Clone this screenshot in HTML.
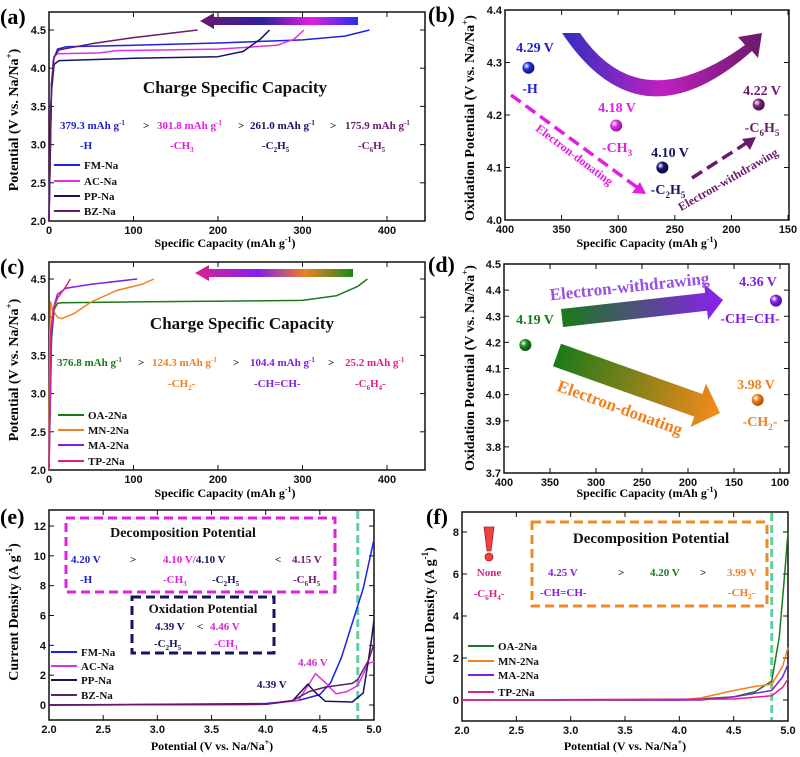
<!DOCTYPE html>
<html><head><meta charset="utf-8"><style>
html,body{margin:0;padding:0;background:#fff;}
svg{display:block;}
.t{font-family:"Liberation Serif",serif;font-weight:bold;}
.k{font-family:"Liberation Sans",sans-serif;font-weight:bold;font-size:11px;fill:#111;}
</style></head><body>
<svg id="fig" width="800" height="757" viewBox="0 0 800 757" xmlns="http://www.w3.org/2000/svg">
<defs>
<linearGradient id="ga" x1="0" x2="1"><stop offset="0" stop-color="#6a1a6a"/><stop offset="0.4" stop-color="#3020a0"/><stop offset="0.7" stop-color="#e020e0"/><stop offset="1" stop-color="#2030f0"/></linearGradient>
<linearGradient id="gc" x1="0" x2="1"><stop offset="0" stop-color="#e0208a"/><stop offset="0.4" stop-color="#8020f0"/><stop offset="0.7" stop-color="#f08020"/><stop offset="1" stop-color="#1a8a1a"/></linearGradient>
<linearGradient id="gb" x1="0" x2="1"><stop offset="0" stop-color="#3030c0"/><stop offset="0.5" stop-color="#c020c0"/><stop offset="1" stop-color="#6a1a6a"/></linearGradient>
<linearGradient id="gd1" x1="0" x2="1"><stop offset="0" stop-color="#1a7a1a"/><stop offset="1" stop-color="#8a20f0"/></linearGradient>
<linearGradient id="gd2" x1="0" x2="1"><stop offset="0" stop-color="#1a7a1a"/><stop offset="1" stop-color="#f88a1a"/></linearGradient>
<radialGradient id="s1" cx="0.35" cy="0.35" r="0.7"><stop offset="0" stop-color="#fff"/><stop offset="0.4" stop-color="#2030e0"/><stop offset="1" stop-color="#101070"/></radialGradient>
<radialGradient id="s2" cx="0.35" cy="0.35" r="0.7"><stop offset="0" stop-color="#fff"/><stop offset="0.4" stop-color="#e030e0"/><stop offset="1" stop-color="#901090"/></radialGradient>
<radialGradient id="s3" cx="0.35" cy="0.35" r="0.7"><stop offset="0" stop-color="#fff"/><stop offset="0.4" stop-color="#141470"/><stop offset="1" stop-color="#050530"/></radialGradient>
<radialGradient id="s4" cx="0.35" cy="0.35" r="0.7"><stop offset="0" stop-color="#fff"/><stop offset="0.4" stop-color="#7a2a7a"/><stop offset="1" stop-color="#400a40"/></radialGradient>
<radialGradient id="s5" cx="0.35" cy="0.35" r="0.7"><stop offset="0" stop-color="#fff"/><stop offset="0.4" stop-color="#1a8a1a"/><stop offset="1" stop-color="#0a4a0a"/></radialGradient>
<radialGradient id="s6" cx="0.35" cy="0.35" r="0.7"><stop offset="0" stop-color="#fff"/><stop offset="0.4" stop-color="#f08020"/><stop offset="1" stop-color="#a04a00"/></radialGradient>
<radialGradient id="s7" cx="0.35" cy="0.35" r="0.7"><stop offset="0" stop-color="#fff"/><stop offset="0.4" stop-color="#8a20f0"/><stop offset="1" stop-color="#4a0a90"/></radialGradient>
</defs>

<!-- panel labels -->
<text class="t" x="0" y="24" font-size="22">(a)</text>
<text class="t" x="428" y="22" font-size="22">(b)</text>
<text class="t" x="0" y="274" font-size="22">(c)</text>
<text class="t" x="428" y="272" font-size="22">(d)</text>
<text class="t" x="0" y="524" font-size="22">(e)</text>
<text class="t" x="426" y="524" font-size="22">(f)</text>

<!-- axis titles -->
<text class="t" font-size="14" text-anchor="middle" transform="translate(18,120) rotate(-90)">Potential (V vs. Na/Na<tspan font-size="9" dy="-6">+</tspan><tspan dy="6">)</tspan></text>
<text class="t" font-size="12" text-anchor="middle" x="225" y="247">Specific Capacity (mAh g<tspan font-size="8" dy="-5">-1</tspan><tspan dy="5">)</tspan></text>
<text class="t" font-size="14" text-anchor="middle" transform="translate(474,118) rotate(-90)">Oxidation Potential (V vs. Na/Na<tspan font-size="9" dy="-6">+</tspan><tspan dy="6">)</tspan></text>
<text class="t" font-size="12" text-anchor="middle" x="647" y="247">Specific Capacity (mAh g<tspan font-size="8" dy="-5">-1</tspan><tspan dy="5">)</tspan></text>
<text class="t" font-size="14" text-anchor="middle" transform="translate(18,370) rotate(-90)">Potential (V vs. Na/Na<tspan font-size="9" dy="-6">+</tspan><tspan dy="6">)</tspan></text>
<text class="t" font-size="12" text-anchor="middle" x="225" y="497">Specific Capacity (mAh g<tspan font-size="8" dy="-5">-1</tspan><tspan dy="5">)</tspan></text>
<text class="t" font-size="14" text-anchor="middle" transform="translate(474,368) rotate(-90)">Oxidation Potential (V vs. Na/Na<tspan font-size="9" dy="-6">+</tspan><tspan dy="6">)</tspan></text>
<text class="t" font-size="12" text-anchor="middle" x="647" y="497">Specific Capacity (mAh g<tspan font-size="8" dy="-5">-1</tspan><tspan dy="5">)</tspan></text>
<text class="t" font-size="14" text-anchor="middle" transform="translate(18,612) rotate(-90)">Current Density (A g<tspan font-size="9" dy="-6">-1</tspan><tspan dy="6">)</tspan></text>
<text class="t" font-size="12" text-anchor="middle" x="212" y="750">Potential (V vs. Na/Na<tspan font-size="8" dy="-5">+</tspan><tspan dy="5">)</tspan></text>
<text class="t" font-size="14" text-anchor="middle" transform="translate(434,616) rotate(-90)">Current Density (A g<tspan font-size="9" dy="-6">-1</tspan><tspan dy="6">)</tspan></text>
<text class="t" font-size="12" text-anchor="middle" x="625" y="750">Potential (V vs. Na/Na<tspan font-size="8" dy="-5">+</tspan><tspan dy="5">)</tspan></text>

<!-- panel a annotations -->
<path d="M358,17 L214,17 L214,13 L200,21 L214,29 L214,25 L358,25 Z" fill="url(#ga)"/>
<text class="t" font-size="17" x="235" y="93" text-anchor="middle" fill="#111">Charge Specific Capacity</text>
<g class="t" font-size="11">
<text x="60" y="129" fill="#2020d0">379.3 mAh g<tspan font-size="7" dy="-4">-1</tspan></text>
<text x="143" y="129" fill="#111">&gt;</text>
<text x="157" y="129" fill="#e020e0">301.8 mAh g<tspan font-size="7" dy="-4">-1</tspan></text>
<text x="238" y="129" fill="#111">&gt;</text>
<text x="250" y="129" fill="#141460">261.0 mAh g<tspan font-size="7" dy="-4">-1</tspan></text>
<text x="330" y="129" fill="#111">&gt;</text>
<text x="345" y="129" fill="#6a1a6a">175.9 mAh g<tspan font-size="7" dy="-4">-1</tspan></text>
<text x="80" y="149" fill="#2020d0">-H</text>
<text x="170" y="149" fill="#e020e0">-CH<tspan font-size="7" dy="3">3</tspan></text>
<text x="262" y="149" fill="#141460">-C<tspan font-size="7" dy="3">2</tspan><tspan dy="-3">H</tspan><tspan font-size="7" dy="3">5</tspan></text>
<text x="358" y="149" fill="#6a1a6a">-C<tspan font-size="7" dy="3">6</tspan><tspan dy="-3">H</tspan><tspan font-size="7" dy="3">5</tspan></text>
</g>

<!-- panel b annotations -->
<path d="M562,33 L580,33 Q640,121 745,45 L738,37 L762,33 L758,58 L752,51 Q640,150 562,33 Z" fill="url(#gb)"/>
<g class="t" font-size="14" text-anchor="middle">
<text x="535" y="52" fill="#2020d0">4.29 V</text><text x="530" y="93" fill="#2020d0">-H</text>
<text x="617" y="112" fill="#e020e0">4.18 V</text><text x="617" y="152" fill="#e020e0">-CH<tspan font-size="9" dy="4">3</tspan></text>
<text x="670" y="157" fill="#141460">4.10 V</text><text x="668" y="194" fill="#141460">-C<tspan font-size="9" dy="4">2</tspan><tspan dy="-4">H</tspan><tspan font-size="9" dy="4">5</tspan></text>
<text x="762" y="95" fill="#6a1a6a">4.22 V</text><text x="762" y="132" fill="#6a1a6a">-C<tspan font-size="9" dy="4">6</tspan><tspan dy="-4">H</tspan><tspan font-size="9" dy="4">5</tspan></text>
</g>
<line x1="511" y1="95" x2="638" y2="188" stroke="#e020e0" stroke-width="3.5" stroke-dasharray="12,6"/>
<path d="M646,194 L632,193 L640,182 Z" fill="#e020e0"/>
<line x1="692" y1="178" x2="748" y2="142" stroke="#6a1a6a" stroke-width="3.5" stroke-dasharray="12,6"/>
<path d="M756,137 L742,139 L750,150 Z" fill="#6a1a6a"/>
<text class="t" font-size="12" fill="#e020e0" text-anchor="middle" transform="translate(572,158) rotate(37)">Electron-donating</text>
<text class="t" font-size="12" fill="#6a1a6a" text-anchor="middle" transform="translate(730,183) rotate(-30)">Electron-withdrawing</text>

<!-- panel c annotations -->
<path d="M353,269 L209,269 L209,265 L195,273 L209,281 L209,277 L353,277 Z" fill="url(#gc)"/>
<text class="t" font-size="17" x="242" y="329" text-anchor="middle" fill="#111">Charge Specific Capacity</text>
<g class="t" font-size="11">
<text x="57" y="366" fill="#1a7a1a">376.8 mAh g<tspan font-size="7" dy="-4">-1</tspan></text>
<text x="138" y="366" fill="#111">&gt;</text>
<text x="152" y="366" fill="#f08020">124.3 mAh g<tspan font-size="7" dy="-4">-1</tspan></text>
<text x="233" y="366" fill="#111">&gt;</text>
<text x="250" y="366" fill="#8020e0">104.4 mAh g<tspan font-size="7" dy="-4">-1</tspan></text>
<text x="328" y="366" fill="#111">&gt;</text>
<text x="345" y="366" fill="#e0208a">25.2 mAh g<tspan font-size="7" dy="-4">-1</tspan></text>
<text x="168" y="387" fill="#f08020">-CH<tspan font-size="7" dy="3">2</tspan><tspan dy="-3">-</tspan></text>
<text x="254" y="387" fill="#8020e0">-CH=CH-</text>
<text x="355" y="387" fill="#e0208a">-C<tspan font-size="7" dy="3">6</tspan><tspan dy="-3">H</tspan><tspan font-size="7" dy="3">4</tspan><tspan dy="-3">-</tspan></text>
</g>

<!-- panel d annotations -->
<path transform="translate(562,318) rotate(-6.4)" d="M0,-9 L145,-9 L145,-18 L162,0 L145,18 L145,9 L0,9 Z" fill="url(#gd1)"/>
<path transform="translate(557,355) rotate(19.6)" d="M0,-12 L150,-12 L150,-23 L173,0 L150,23 L150,12 L0,12 Z" fill="url(#gd2)"/>
<text class="t" font-size="17" fill="#9a50e0" text-anchor="middle" transform="translate(630,292) rotate(-6)">Electron-withdrawing</text>
<text class="t" font-size="17" fill="#f08020" text-anchor="middle" transform="translate(618,413) rotate(20)">Electron-donating</text>
<g class="t" font-size="14" text-anchor="middle">
<text x="535" y="324" fill="#1a7a1a">4.19 V</text>
<text x="758" y="286" fill="#8020e0">4.36 V</text><text x="750" y="323" fill="#8020e0">-CH=CH-</text>
<text x="756" y="389" fill="#f08020">3.98 V</text><text x="760" y="426" fill="#f08020">-CH<tspan font-size="9" dy="4">2</tspan><tspan dy="-4">-</tspan></text>
</g>

<!-- panel e annotations -->
<rect x="66" y="518" width="269" height="74" fill="none" stroke="#e020e0" stroke-width="3" stroke-dasharray="9,5"/>
<text class="t" font-size="14" x="183" y="537" text-anchor="middle" fill="#111">Decomposition Potential</text>
<g class="t" font-size="11">
<text x="71" y="563" fill="#2020d0">4.20 V</text><text x="130" y="563" fill="#111">&gt;</text>
<text x="163" y="563" fill="#e020e0">4.10 V/<tspan fill="#141460">4.10 V</tspan></text>
<text x="275" y="563" fill="#111">&lt;</text><text x="292" y="563" fill="#6a1a6a">4.15 V</text>
<text x="80" y="583" fill="#2020d0">-H</text>
<text x="163" y="583" fill="#e020e0">-CH<tspan font-size="7" dy="3">3</tspan></text>
<text x="212" y="583" fill="#141460">-C<tspan font-size="7" dy="3">2</tspan><tspan dy="-3">H</tspan><tspan font-size="7" dy="3">5</tspan></text>
<text x="293" y="583" fill="#6a1a6a">-C<tspan font-size="7" dy="3">6</tspan><tspan dy="-3">H</tspan><tspan font-size="7" dy="3">5</tspan></text>
</g>
<rect x="132" y="597" width="142" height="56" fill="none" stroke="#141460" stroke-width="3" stroke-dasharray="9,5"/>
<text class="t" font-size="13" x="203" y="613" text-anchor="middle" fill="#111">Oxidation Potential</text>
<g class="t" font-size="11">
<text x="155" y="630" fill="#141460">4.39 V</text><text x="197" y="630" fill="#111">&lt;</text><text x="210" y="630" fill="#e020e0">4.46 V</text>
<text x="154" y="647" fill="#141460">-C<tspan font-size="7" dy="3">2</tspan><tspan dy="-3">H</tspan><tspan font-size="7" dy="3">5</tspan></text>
<text x="214" y="647" fill="#e020e0">-CH<tspan font-size="7" dy="3">3</tspan></text>
</g>
<text class="t" font-size="11" x="298" y="666" fill="#e020e0">4.46 V</text>
<text class="t" font-size="11" x="257" y="688" fill="#141460">4.39 V</text>

<!-- panel f annotations -->
<rect x="532" y="522" width="235" height="84" fill="none" stroke="#f08a20" stroke-width="3" stroke-dasharray="9,5"/>
<text class="t" font-size="15" x="651" y="543" text-anchor="middle" fill="#111">Decomposition Potential</text>
<g class="t" font-size="11">
<text x="548" y="576" fill="#8020e0">4.25 V</text><text x="618" y="576" fill="#111">&gt;</text>
<text x="650" y="576" fill="#1a7a1a">4.20 V</text><text x="700" y="576" fill="#111">&gt;</text>
<text x="727" y="576" fill="#f08020">3.99 V</text>
<text x="540" y="596" fill="#8020e0">-CH=CH-</text>
<text x="728" y="596" fill="#f08020">-CH<tspan font-size="7" dy="3">2</tspan><tspan dy="-3">-</tspan></text>
</g>
<g>
<path d="M484,527 L494,527 L491,551 L487,551 Z" fill="#f04040" stroke="#b02020" stroke-width="0.8"/>
<circle cx="489" cy="557" r="4" fill="#f04040" stroke="#b02020" stroke-width="0.8"/>
</g>
<text class="t" font-size="11" x="489" y="576" text-anchor="middle" fill="#e0208a">None</text>
<text class="t" font-size="11" x="489" y="597" text-anchor="middle" fill="#e0208a">-C<tspan font-size="7" dy="3">6</tspan><tspan dy="-3">H</tspan><tspan font-size="7" dy="3">4</tspan><tspan dy="-3">-</tspan></text>
</svg>
<script>
// ---- data ----
var seriesNamesA = ['FM-Na','AC-Na','PP-Na','BZ-Na'];
var capFM = [[0,2.0],[2,3.5],[5,4.1],[10,4.25],[20,4.28],[100,4.3],[200,4.33],[300,4.37],[350,4.42],[379.3,4.5]];
var capAC = [[0,2.0],[3,3.8],[6,4.15],[10,4.19],[60,4.2],[80,4.23],[200,4.25],[270,4.3],[290,4.38],[301.8,4.5]];
var capPP = [[0,2.0],[3,3.7],[6,4.05],[12,4.1],[100,4.13],[200,4.15],[230,4.22],[250,4.38],[261,4.5]];
var capBZ = [[0,2.0],[3,3.8],[6,4.15],[12,4.24],[50,4.32],[100,4.4],[175.9,4.5]];
var seriesNamesC = ['OA-2Na','MN-2Na','MA-2Na','TP-2Na'];
var capOA = [[0,2.0],[3,3.7],[6,4.1],[10,4.18],[15,4.19],[100,4.2],[300,4.22],[340,4.28],[365,4.4],[376.8,4.5]];
var capMN = [[0,2.0],[1,3.8],[2,4.2],[4,4.1],[10,4.0],[15,3.98],[30,4.05],[50,4.2],[80,4.35],[110,4.43],[124.3,4.5]];
var capMA = [[0,2.0],[3,3.8],[6,4.15],[10,4.3],[20,4.38],[50,4.43],[104.4,4.5]];
var capTP = [[0,2.0],[2,3.8],[5,4.1],[10,4.25],[20,4.4],[25.2,4.5]];
var oxB = [[379.3,4.29],[301.8,4.18],[261.0,4.10],[175.9,4.22]];
var oxD = [[376.8,4.19],[124.3,3.98],[104.4,4.36]];
var lsvFM = [[2,0],[4,0.1],[4.3,0.3],[4.5,0.7],[4.6,1.5],[4.7,3.2],[4.8,5.5],[4.9,7.8],[5,11.1]];
var lsvAC = [[2,0],[4,0.05],[4.3,0.3],[4.4,1.4],[4.46,2.1],[4.55,1.5],[4.65,0.75],[4.75,0.9],[4.85,1.3],[4.95,2.8],[5,2.9]];
var lsvPP = [[2,0],[4,0.05],[4.25,0.3],[4.39,1.4],[4.45,0.9],[4.55,0.25],[4.8,0.2],[4.9,0.8],[4.97,4],[5,5.7]];
var lsvBZ = [[2,0],[4,0.05],[4.25,0.3],[4.4,0.9],[4.55,1.2],[4.7,1.35],[4.8,1.45],[4.85,1.7],[4.95,3],[5,4.1]];
var lsvOA = [[2,0],[4,0],[4.5,0.15],[4.7,0.4],[4.85,0.9],[4.92,3],[4.97,6],[5,8]];
var lsvMN = [[2,0],[4,0],[4.2,0.1],[4.5,0.45],[4.7,0.65],[4.85,0.75],[4.95,1.6],[5,2.5]];
var lsvMA = [[2,0],[4.2,0],[4.5,0.15],[4.85,0.45],[4.95,1.1],[5,1.7]];
var lsvTP = [[2,0],[4.5,0.05],[4.85,0.2],[4.95,0.6],[5,1.0]];
var ticksCapX = [0,100,200,300,400];
var ticksPotY = [2.0,2.5,3.0,3.5,4.0,4.5];
var ticksBX = [400,350,300,250,200,150];
var ticksBY = [4.0,4.1,4.2,4.3,4.4];
var ticksDX = [400,350,300,250,200,150,100];
var ticksDY = [3.7,3.8,3.9,4.0,4.1,4.2,4.3,4.4,4.5];
var ticksVX = [2.0,2.5,3.0,3.5,4.0,4.5,5.0];
var ticksEY = [0,2,4,6,8,10,12];
var ticksFY = [0,2,4,6,8];
var cutoffV = 4.85;

var NS='http://www.w3.org/2000/svg';
var svg=document.getElementById('fig');
function mk(t){return document.createElementNS(NS,t);}
function scale(d0,d1,r0,r1){return function(v){return r0+(v-d0)/(d1-d0)*(r1-r0);};}
function frame(name,L,T,R,B,xs,ys,xt,yt,fmtX,fmtY){
  var g=mk('g');
  
  
  var r=mk('rect');r.setAttribute('x',L);r.setAttribute('y',T);r.setAttribute('width',R-L);r.setAttribute('height',B-T);
  r.setAttribute('fill','none');r.setAttribute('stroke','#111');r.setAttribute('stroke-width','1.5');g.appendChild(r);
  xt.forEach(function(v){var x=xs(v);
    var l=mk('line');l.setAttribute('x1',x);l.setAttribute('x2',x);l.setAttribute('y1',B);l.setAttribute('y2',B-5);l.setAttribute('stroke','#111');g.appendChild(l);
    var l2=mk('line');l2.setAttribute('x1',x);l2.setAttribute('x2',x);l2.setAttribute('y1',T);l2.setAttribute('y2',T+5);l2.setAttribute('stroke','#111');g.appendChild(l2);
    var t=mk('text');t.setAttribute('class','k');t.setAttribute('x',x);t.setAttribute('y',B+13);t.setAttribute('text-anchor','middle');t.textContent=fmtX(v);
    
    g.appendChild(t);});
  yt.forEach(function(v){var y=ys(v);
    var l=mk('line');l.setAttribute('x1',L);l.setAttribute('x2',L+5);l.setAttribute('y1',y);l.setAttribute('y2',y);l.setAttribute('stroke','#111');g.appendChild(l);
    var l2=mk('line');l2.setAttribute('x1',R);l2.setAttribute('x2',R-5);l2.setAttribute('y1',y);l2.setAttribute('y2',y);l2.setAttribute('stroke','#111');g.appendChild(l2);
    var t=mk('text');t.setAttribute('class','k');t.setAttribute('x',L-3);t.setAttribute('y',y+4);t.setAttribute('text-anchor','end');t.textContent=fmtY(v);
    
    g.appendChild(t);});
  svg.appendChild(g);
}
function line(name,pts,xs,ys,color){
  var p=mk('polyline');
  
  
  p.setAttribute('points',pts.map(function(q){return xs(q[0]).toFixed(1)+','+ys(q[1]).toFixed(1);}).join(' '));
  p.setAttribute('fill','none');p.setAttribute('stroke',color);p.setAttribute('stroke-width','1.5');p.setAttribute('stroke-linejoin','round');
  svg.appendChild(p);
}
function legend(name,items,x,ys){
  items.forEach(function(it,i){
    var g=mk('g');
    
    
    var l=mk('line');l.setAttribute('x1',x);l.setAttribute('x2',x+26);l.setAttribute('y1',ys[i]);l.setAttribute('y2',ys[i]);l.setAttribute('stroke',it[1]);l.setAttribute('stroke-width','2');g.appendChild(l);
    var t=mk('text');t.setAttribute('class','t');t.setAttribute('font-size','11');t.setAttribute('x',x+30);t.setAttribute('y',ys[i]+4);t.setAttribute('fill','#111');t.textContent=it[0];g.appendChild(t);
    svg.appendChild(g);
  });
}
function dot(name,x,y,grad){
  var c=mk('circle');
  
  
  c.setAttribute('cx',x);c.setAttribute('cy',y);c.setAttribute('r','6');c.setAttribute('fill','url(#'+grad+')');
  svg.appendChild(c);
}
function vdash(name,x,T,B){
  var l=mk('line');
  
  
  l.setAttribute('x1',x);l.setAttribute('x2',x);l.setAttribute('y1',T);l.setAttribute('y2',B);
  l.setAttribute('stroke','#60d0a0');l.setAttribute('stroke-width','3');l.setAttribute('stroke-dasharray','8,4');
  svg.appendChild(l);
}
var f0=function(v){return String(v);}, f1=function(v){return v.toFixed(1);};
var colA=['#2020e0','#e030e0','#141460','#6a1a6a'];
var colC=['#1a7a1a','#f08020','#8020e0','#e0208a'];

// panel a
var xa=scale(0,400,49,387), ya=scale(2,4.5,221,30);
frame('panel-a',49,12,425,221,xa,ya,ticksCapX,ticksPotY,f0,f1);
[capFM,capAC,capPP,capBZ].forEach(function(d,i){line('curve-'+seriesNamesA[i].toLowerCase(),d,xa,ya,colA[i]);});
legend('legend-a',seriesNamesA.map(function(n,i){return [n,colA[i]];}),54,[165,181,196,211]);

// panel b
var xb=scale(400,150,505,788), yb=scale(4.0,4.4,220,10);
frame('panel-b',505,10,789,220,xb,yb,ticksBX,ticksBY,f0,f1);
var gb=['s1','s2','s3','s4'];
oxB.forEach(function(p,i){dot('point-'+seriesNamesA[i].toLowerCase(),xb(p[0]),yb(p[1]),gb[i]);});

// panel c
var xc=scale(0,400,49,387), yc=scale(2,4.5,470,279);
frame('panel-c',49,262,425,470,xc,yc,ticksCapX,ticksPotY,f0,f1);
[capOA,capMN,capMA,capTP].forEach(function(d,i){line('curve-'+seriesNamesC[i].toLowerCase(),d,xc,yc,colC[i]);});
legend('legend-c',seriesNamesC.map(function(n,i){return [n,colC[i]];}),58,[415,430,445,461]);

// panel d
var xd=scale(400,100,504,780), yd=scale(3.7,4.5,473,264);
frame('panel-d',504,264,789,473,xd,yd,ticksDX,ticksDY,f0,f1);
var gd=['s5','s6','s7'];
var dn=['point-oa-2na','point-mn-2na','point-ma-2na'];
oxD.forEach(function(p,i){dot(dn[i],xd(p[0]),yd(p[1]),gd[i]);});

// panel e
var xe=scale(2,5,49,374), ye=scale(0,12,705,526);
frame('panel-e',49,510,374,720,xe,ye,ticksVX,ticksEY,f1,f0);
vdash('cutoff-line-e',xe(cutoffV),511,719);
[lsvFM,lsvAC,lsvPP,lsvBZ].forEach(function(d,i){line('lsv-'+seriesNamesA[i].toLowerCase(),d,xe,ye,colA[i]);});
legend('legend-e',seriesNamesA.map(function(n,i){return [n,colA[i]];}),51,[652,666,680,695]);

// panel f
var xf=scale(2,5,462,788), yf=scale(0,8,700,532);
frame('panel-f',462,512,788,721,xf,yf,ticksVX,ticksFY,f1,f0);
vdash('cutoff-line-f',xf(cutoffV),513,720);
[lsvOA,lsvMN,lsvMA,lsvTP].forEach(function(d,i){line('lsv-'+seriesNamesC[i].toLowerCase(),d,xf,yf,colC[i]);});
legend('legend-f',seriesNamesC.map(function(n,i){return [n,colC[i]];}),468,[646,661,675,692]);
</script>
</body></html>
